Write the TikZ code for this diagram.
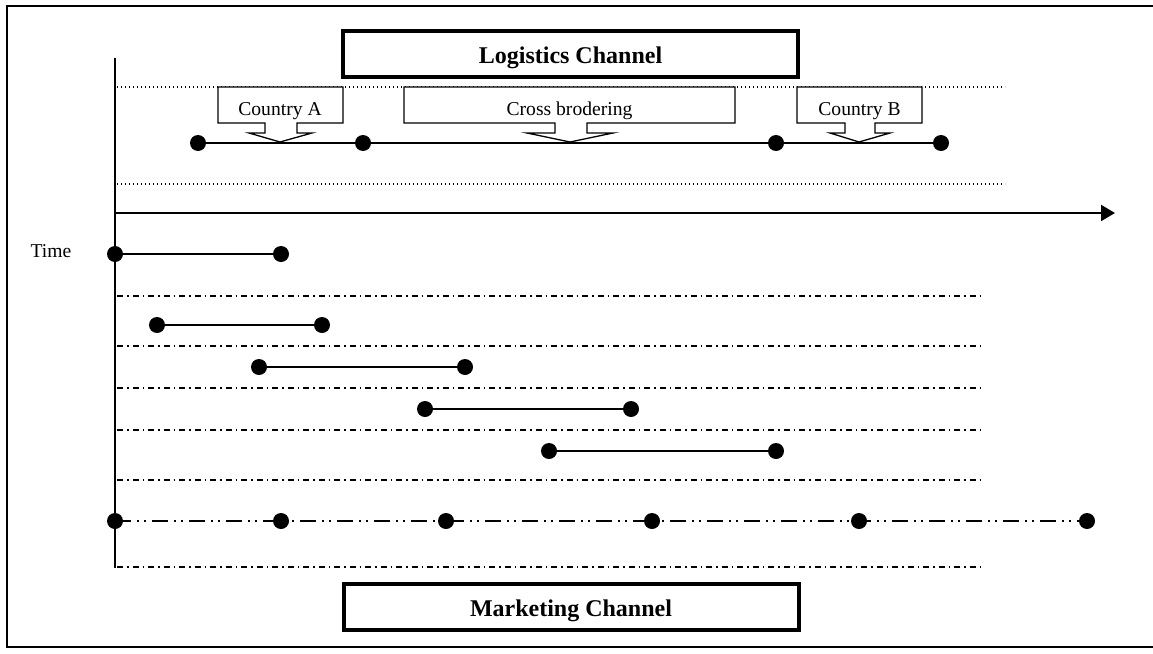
\documentclass[tikz,border=0pt]{standalone}
\usepackage{fontspec}
\setmainfont{Liberation Serif}
\usetikzlibrary{arrows.meta,backgrounds}
\begin{document}
\begin{tikzpicture}[x=1pt,y=-1pt,
  framepen/.style={line width=2.5pt},
  axispen/.style={line width=2pt},
  titlebox/.style={draw,line width=4pt,minimum width=455pt,minimum height=46pt,inner sep=0pt},
  titletext/.style={font=\fontsize{24}{28}\selectfont\bfseries,anchor=base,inner sep=0pt},
  plaintext/.style={font=\fontsize{19.6}{23}\selectfont,anchor=base,inner sep=0pt},
  calloutpen/.style={line width=1.3pt,fill=white},
  dot/.style={circle,fill=black,minimum size=16pt,inner sep=0pt},
  span/.style={line width=1.4pt},
  dottedrule/.style={line width=1.3pt,dash pattern=on 1.4pt off 2.6pt},
  dashdotrule/.style={line width=1.3pt,dash pattern=on 6pt off 4pt on 1.5pt off 4pt},
  dashdotdotrule/.style={line width=1.4pt,dash pattern=on 16pt off 6pt on 2pt off 5pt on 2pt off 6pt}]
\useasboundingbox (0,0) rectangle (1153,653);

% outer frame (open on the right)
\draw[framepen] (1153,6) -- (7,6) -- (7,647) -- (1153,647);

% channel titles
\node[titlebox] (logbox) at (570.5,54) {};
\node[titletext] (logtxt) at (570.5,63) {Logistics Channel};
\node[titlebox] (mktbox) at (571,607) {};
\node[titletext] (mkttxt) at (571,616) {Marketing Channel};

% logistics band limits
\coordinate (bandTL) at (117,87);
\coordinate (bandTR) at (1005,87);
\coordinate (bandBL) at (117,184);
\coordinate (bandBR) at (1005,184);
\draw[dottedrule] (bandTL) -- (bandTR);
\draw[dottedrule] (bandBL) -- (bandBR);

% time axes
\coordinate (vtop) at (115,58);
\coordinate (vbot) at (115,568);
\draw[axispen] (vtop) -- (vbot);
\coordinate (hstart) at (115,213);
\coordinate (hend) at (1115,213);
\draw[axispen,-{Triangle[length=14pt,width=16pt]}] (hstart) -- (hend);
\node[plaintext] (timelbl) at (51,257) {Time};

% logistics chain
\node[dot] (la) at (198,143) {};
\node[dot] (lb) at (363,143) {};
\node[dot] (lc) at (776,143) {};
\node[dot] (ld) at (941,143) {};
\draw[span] (la) -- (lb) -- (lc) -- (ld);

% callouts pointing at the chain
\draw[calloutpen] (218,87) -- (343,87) -- (343,123) -- (297,123) -- (297,133) -- (312,133)
  -- (280,142) -- (249,133) -- (265,133) -- (265,123) -- (218,123) -- cycle;
\node[plaintext] (ctyA) at (280,115) {Country A};
\draw[calloutpen] (404,87) -- (735,87) -- (735,123) -- (587,123) -- (587,133) -- (613,133)
  -- (570,142) -- (527,133) -- (555,133) -- (555,123) -- (404,123) -- cycle;
\node[plaintext] (cross) at (569.5,115) {Cross brodering};
\draw[calloutpen] (797,87) -- (922,87) -- (922,123) -- (875,123) -- (875,133) -- (890,133)
  -- (859,142) -- (830,133) -- (845,133) -- (845,123) -- (797,123) -- cycle;
\node[plaintext] (ctyB) at (859.5,115) {Country B};

% separator rules
\foreach \yy/\nm in {296/s1,346/s2,388/s3,430/s4,480/s5,567/s6}{
  \coordinate (\nm L) at (117,\yy);
  \coordinate (\nm R) at (980,\yy);
  \draw[dashdotrule] (\nm L) -- (\nm R);
}

% marketing intervals
\node[dot] (r1a) at (115,254) {};
\node[dot] (r1b) at (281,254) {};
\draw[span] (r1a) -- (r1b);
\node[dot] (r2a) at (157,325) {};
\node[dot] (r2b) at (322,325) {};
\draw[span] (r2a) -- (r2b);
\node[dot] (r3a) at (259,367) {};
\node[dot] (r3b) at (465,367) {};
\draw[span] (r3a) -- (r3b);
\node[dot] (r4a) at (425,409) {};
\node[dot] (r4b) at (631,409) {};
\draw[span] (r4a) -- (r4b);
\node[dot] (r5a) at (549,451) {};
\node[dot] (r5b) at (776,451) {};
\draw[span] (r5a) -- (r5b);

% milestone row, the rule runs behind the dots
\node[dot] (m1) at (115,521) {};
\node[dot] (m2) at (281,521) {};
\node[dot] (m3) at (446,521) {};
\node[dot] (m4) at (652,521) {};
\node[dot] (m5) at (859,521) {};
\node[dot] (m6) at (1087,521) {};
\begin{scope}[on background layer]
\draw[dashdotdotrule] (m1.center) -- (m6.center);
\end{scope}
\end{tikzpicture}
\end{document}
